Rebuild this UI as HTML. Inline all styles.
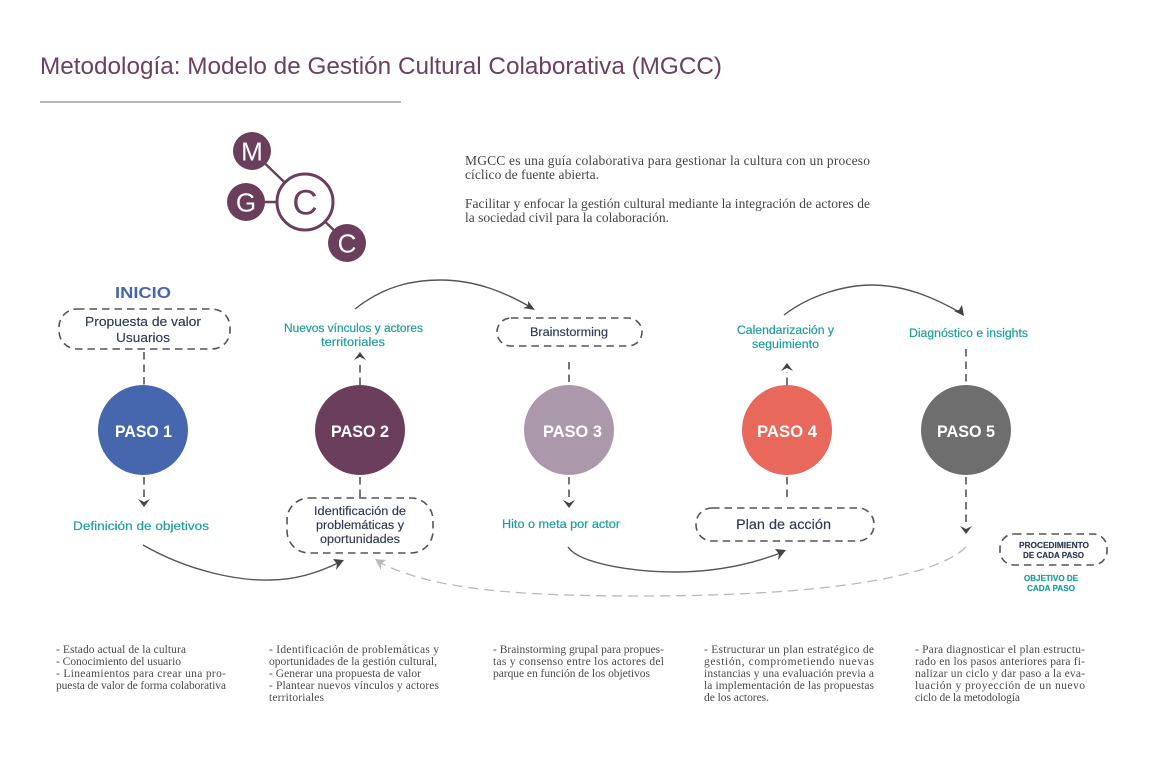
<!DOCTYPE html>
<html lang="es"><head><meta charset="utf-8"><title>MGCC</title>
<style>
html,body{margin:0;padding:0;background:#fff;width:1172px;height:778px;overflow:hidden}
svg{display:block}
text{font-family:"Liberation Sans",sans-serif}
.s{font-family:"Liberation Serif",serif;font-size:11.5px;fill:#4a4a4a}
.i{font-family:"Liberation Serif",serif;font-size:13.5px;fill:#444}
.t{fill:#1f9e9c;font-size:11.5px;text-anchor:start;stroke:#1f9e9c;stroke-width:.2}
.d{fill:#2e3a52;font-size:11.5px;stroke:#2e3a52;stroke-width:.15}
.p{fill:#fff;font-size:16.5px;font-weight:bold;text-anchor:start}
.b{fill:none;stroke:#555;stroke-width:1.6;stroke-dasharray:7.5 5}
.c{fill:none;stroke:#555;stroke-width:1.4}
.h{fill:#444}
</style></head><body>
<svg width="1172" height="778" viewBox="0 0 1172 778" xmlns="http://www.w3.org/2000/svg">
<rect width="1172" height="778" fill="#fff"/>
<text x="40" y="74" font-size="24" fill="#6b4160" textLength="682" lengthAdjust="spacingAndGlyphs">Metodología: Modelo de Gestión Cultural Colaborativa (MGCC)</text>
<line x1="40" y1="102" x2="401" y2="102" stroke="#9c8496" stroke-width="1.2"/>

<g stroke="#6b3f5c" stroke-width="2.4" fill="none">
<line x1="252" y1="151" x2="305" y2="202"/><line x1="246" y1="202" x2="305" y2="202"/><line x1="305" y1="202" x2="347" y2="243"/>
</g>
<circle cx="252" cy="151" r="19" fill="#6b3f5c"/><circle cx="246" cy="202" r="19" fill="#6b3f5c"/><circle cx="347" cy="243" r="19" fill="#6b3f5c"/>
<circle cx="305" cy="202" r="28" fill="#fff" stroke="#6b3f5c" stroke-width="3"/>
<text x="252" y="160.500" font-size="26" fill="#fff" text-anchor="middle">M</text>
<text x="246" y="211.500" font-size="26" fill="#fff" text-anchor="middle">G</text>
<text x="305" y="214.500" font-size="35" fill="#6b3f5c" text-anchor="middle">C</text>
<text x="347" y="252.500" font-size="26" fill="#fff" text-anchor="middle">C</text>

<text class="i" x="465" y="165" textLength="405" lengthAdjust="spacing">MGCC es una guía colaborativa para gestionar la cultura con un proceso</text>
<text class="i" x="465" y="179" textLength="134" lengthAdjust="spacing">cíclico de fuente abierta.</text>
<text class="i" x="465" y="208" textLength="405" lengthAdjust="spacing">Facilitar y enfocar la gestión cultural mediante la integración de actores de</text>
<text class="i" x="465" y="222" textLength="204" lengthAdjust="spacing">la sociedad civil para la colaboración.</text>

<text x="115" y="298" font-size="16" font-weight="bold" fill="#4667ae" textLength="56" lengthAdjust="spacingAndGlyphs">INICIO</text>

<rect class="b" x="59" y="309" width="171" height="40" rx="18"/>
<rect class="b" x="287" y="498" width="146" height="55" rx="22"/>
<rect class="b" x="497" y="318" width="145" height="28" rx="14"/>
<rect class="b" x="696" y="508" width="178" height="33" rx="16"/>
<rect class="b" x="1000" y="534" width="107" height="31" rx="14"/>

<g class="b">
<line x1="144" y1="352" x2="144" y2="385"/><line x1="144" y1="477" x2="144" y2="501"/>
<line x1="360" y1="385" x2="360" y2="360"/><line x1="360" y1="477" x2="360" y2="498"/>
<line x1="569" y1="362" x2="569" y2="384"/><line x1="569" y1="477" x2="569" y2="502"/>
<line x1="787" y1="385" x2="787" y2="372"/><line x1="787" y1="477" x2="787" y2="497"/>
<line x1="966" y1="349" x2="966" y2="384"/><line x1="966" y1="477" x2="966" y2="527"/>
</g>
<path class="h" d="M138 499 L144 502 L150 499 L144 507Z"/>
<path class="h" d="M563 500 L569 503 L575 500 L569 508Z"/>
<path class="h" d="M960 526 L966 529 L972 526 L966 534Z"/>
<path class="h" d="M354 360 L360 357 L366 360 L360 352Z"/>
<path class="h" d="M781 371 L787 368 L793 371 L787 363Z"/>

<circle cx="143" cy="430" r="45" fill="#4667ae"/>
<circle cx="360" cy="430" r="45" fill="#6b3f5c"/>
<circle cx="569" cy="430" r="45" fill="#ac98ab"/>
<circle cx="787" cy="430" r="45" fill="#e8695c"/>
<circle cx="966" cy="430" r="45" fill="#6e6e6e"/>
<text class="p" x="115" y="437" textLength="57" lengthAdjust="spacingAndGlyphs">PASO 1</text>
<text class="p" x="331" y="437" textLength="58" lengthAdjust="spacingAndGlyphs">PASO 2</text>
<text class="p" x="543" y="437" textLength="59" lengthAdjust="spacingAndGlyphs">PASO 3</text>
<text class="p" x="757" y="437" textLength="60" lengthAdjust="spacingAndGlyphs">PASO 4</text>
<text class="p" x="937" y="437" textLength="58" lengthAdjust="spacingAndGlyphs">PASO 5</text>

<text class="d" x="85" y="326" style="font-size:13px" textLength="116" lengthAdjust="spacingAndGlyphs">Propuesta de valor</text>
<text class="d" x="116" y="342" style="font-size:13px" textLength="54" lengthAdjust="spacingAndGlyphs">Usuarios</text>
<text class="d" x="314" y="515" textLength="92" lengthAdjust="spacingAndGlyphs">Identificación de</text>
<text class="d" x="316" y="529" textLength="88" lengthAdjust="spacingAndGlyphs">problemáticas y</text>
<text class="d" x="320" y="543" textLength="80" lengthAdjust="spacingAndGlyphs">oportunidades</text>
<text class="d" x="530" y="336" textLength="78" lengthAdjust="spacingAndGlyphs">Brainstorming</text>
<text class="d" x="736" y="529" style="font-size:14px" textLength="95" lengthAdjust="spacingAndGlyphs">Plan de acción</text>
<text class="d" x="1019" y="548" style="font-size:8px;font-weight:bold" textLength="70" lengthAdjust="spacingAndGlyphs">PROCEDIMIENTO</text>
<text class="d" x="1023" y="558" style="font-size:8px;font-weight:bold" textLength="61" lengthAdjust="spacingAndGlyphs">DE CADA PASO</text>

<text class="t" x="73" y="530" textLength="136" lengthAdjust="spacingAndGlyphs">Definición de objetivos</text>
<text class="t" x="284" y="332" textLength="139" lengthAdjust="spacingAndGlyphs">Nuevos vínculos y actores</text>
<text class="t" x="321" y="346" textLength="64" lengthAdjust="spacingAndGlyphs">territoriales</text>
<text class="t" x="502" y="528" textLength="118" lengthAdjust="spacingAndGlyphs">Hito o meta por actor</text>
<text class="t" x="737" y="334" textLength="97" lengthAdjust="spacingAndGlyphs">Calendarización y</text>
<text class="t" x="752" y="348" textLength="67" lengthAdjust="spacingAndGlyphs">seguimiento</text>
<text class="t" x="909" y="337" textLength="119" lengthAdjust="spacingAndGlyphs">Diagnóstico e insights</text>
<text class="t" x="1024" y="581" style="font-size:8px;font-weight:bold" textLength="54" lengthAdjust="spacingAndGlyphs">OBJETIVO DE</text>
<text class="t" x="1027" y="591" style="font-size:8px;font-weight:bold" textLength="48" lengthAdjust="spacingAndGlyphs">CADA PASO</text>

<path class="c" d="M143 545 C190 572 240 581 270 580 C295 580 320 572 340 562"/>
<path class="h" d="M344 560 L333 559 L337 564 L336 570Z"/>
<path class="c" d="M355 309 C385 285 415 280 440 280 C475 280 505 292 532 308"/>
<path class="h" d="M535 310 L528 301 L528 306 L523 308Z"/>
<path class="c" d="M568 547 C580 565 640 572 675 572 C720 572 755 563 783 552"/>
<path class="h" d="M786 550 L775 549 L779 554 L778 560Z"/>
<path class="c" d="M784 315 C810 295 845 285 872 285 C905 285 935 298 961 313"/>
<path class="h" d="M964 316 L962 305 L959 310 L954 311Z"/>
<path d="M966 547 C935 578 820 596 640 596 C520 596 430 590 377 561" fill="none" stroke="#b9b9b9" stroke-width="1.3" stroke-dasharray="10 6"/>
<path d="M375 559 L386 560 L381 564 L381 570Z" fill="#b9b9b9"/>

<text class="s" x="56" y="653" textLength="130" lengthAdjust="spacing">- Estado actual de la cultura</text>
<text class="s" x="56" y="665" textLength="125" lengthAdjust="spacing">- Conocimiento del usuario</text>
<text class="s" x="56" y="677" textLength="170" lengthAdjust="spacing">- Lineamientos para crear una pro-</text>
<text class="s" x="56" y="689" textLength="170" lengthAdjust="spacing">puesta de valor de forma colaborativa</text>

<text class="s" x="269" y="653" textLength="170" lengthAdjust="spacing">- Identificación de problemáticas y</text>
<text class="s" x="269" y="665" textLength="168" lengthAdjust="spacing">oportunidades de la gestión cultural,</text>
<text class="s" x="269" y="677" textLength="152" lengthAdjust="spacing">- Generar una propuesta de valor</text>
<text class="s" x="269" y="689" textLength="170" lengthAdjust="spacing">- Plantear nuevos vínculos y actores</text>
<text class="s" x="269" y="701" textLength="55" lengthAdjust="spacing">territoriales</text>

<text class="s" x="493" y="653" textLength="171" lengthAdjust="spacing">- Brainstorming grupal para propues-</text>
<text class="s" x="493" y="665" textLength="171" lengthAdjust="spacing">tas y consenso entre los actores del</text>
<text class="s" x="493" y="677" textLength="157" lengthAdjust="spacing">parque en función de los objetivos</text>

<text class="s" x="704" y="653" textLength="170" lengthAdjust="spacing">- Estructurar un plan estratégico de</text>
<text class="s" x="704" y="665" textLength="170" lengthAdjust="spacing">gestión, comprometiendo nuevas</text>
<text class="s" x="704" y="677" textLength="170" lengthAdjust="spacing">instancias y una evaluación previa a</text>
<text class="s" x="704" y="689" textLength="170" lengthAdjust="spacing">la implementación de las propuestas</text>
<text class="s" x="704" y="701" textLength="65" lengthAdjust="spacing">de los actores.</text>

<text class="s" x="915" y="653" textLength="170" lengthAdjust="spacing">- Para diagnosticar el plan estructu-</text>
<text class="s" x="915" y="665" textLength="170" lengthAdjust="spacing">rado en los pasos anteriores para fi-</text>
<text class="s" x="915" y="677" textLength="170" lengthAdjust="spacing">nalizar un ciclo y dar paso a la eva-</text>
<text class="s" x="915" y="689" textLength="170" lengthAdjust="spacing">luación y proyección de un nuevo</text>
<text class="s" x="915" y="701" textLength="105" lengthAdjust="spacing">ciclo de la metodología</text>
</svg>
</body></html>
